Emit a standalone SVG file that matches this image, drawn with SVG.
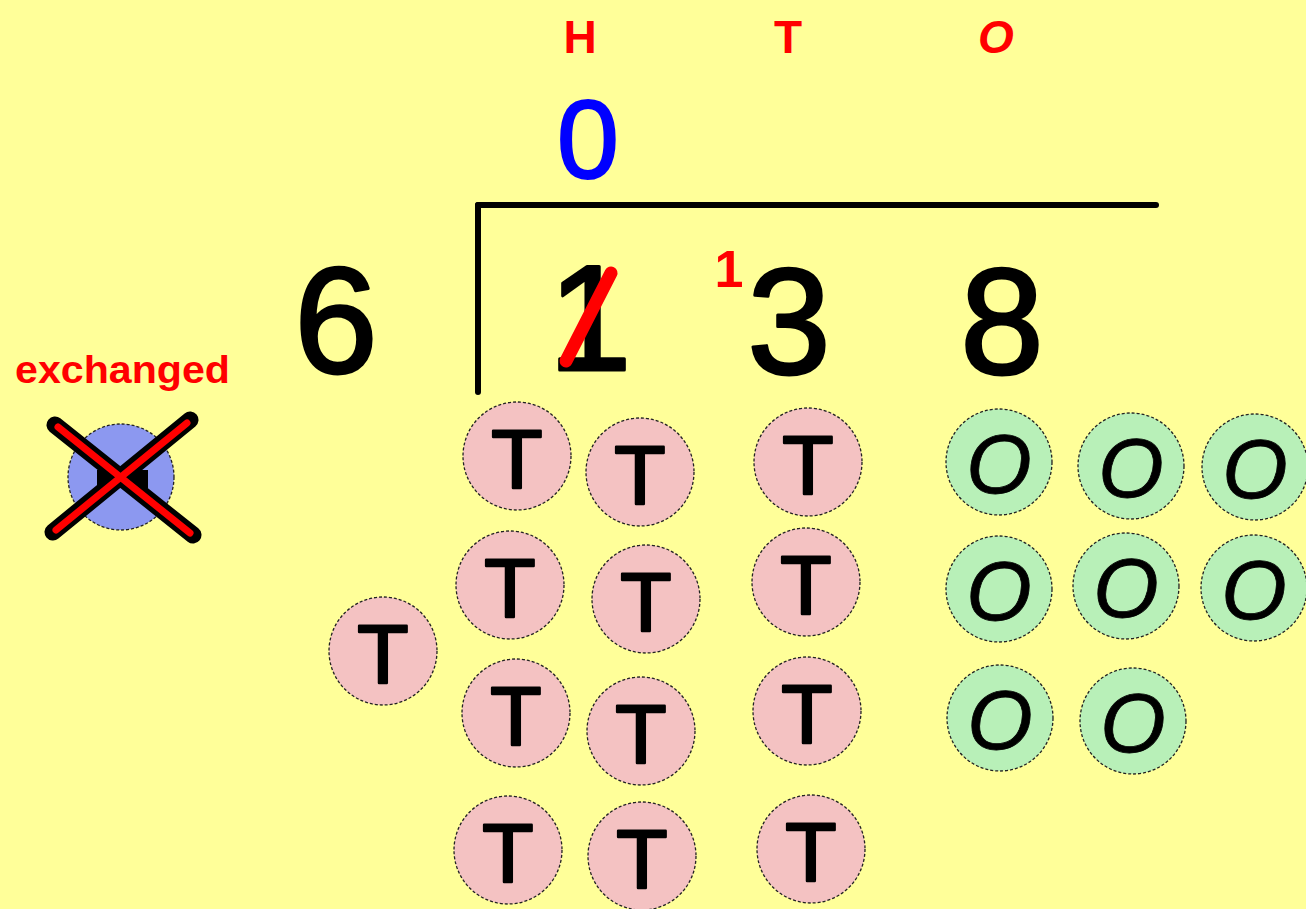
<svg xmlns="http://www.w3.org/2000/svg" width="1306" height="909" viewBox="0 0 1306 909">
<style>
.bg{fill:#FFFF99}
.tc{fill:#F4C2C2;stroke:#222;stroke-width:1.3;stroke-dasharray:3 2}
.oc{fill:#B8F0B8;stroke:#222;stroke-width:1.3;stroke-dasharray:3 2}
.tl{font-family:"Liberation Sans",Arial,sans-serif;font-size:84px;fill:#000;stroke:#000;stroke-width:2.5;stroke-linejoin:round;text-anchor:middle}
.ol{font-family:"Liberation Sans",Arial,sans-serif;font-size:84px;font-style:italic;fill:#000;stroke:#000;stroke-width:0.8;text-anchor:middle}
.big{font-family:"Liberation Sans",Arial,sans-serif;font-size:150px;fill:#000;stroke:#000;stroke-width:3;stroke-linejoin:round;text-anchor:middle}
.hdr{font-family:"Liberation Sans",Arial,sans-serif;font-size:46px;font-weight:bold;fill:#FF0000;text-anchor:middle}
.bar{stroke:#000;stroke-width:6;stroke-linecap:round;fill:none}
</style>
<rect class="bg" x="0" y="0" width="1306" height="909"/>

<g id="headers">
<text class="hdr" x="580" y="53">H</text>
<text class="hdr" x="788" y="53">T</text>
<text class="hdr" x="996" y="53" font-style="italic">O</text>
</g>

<g id="quotient">
<text x="588" y="178" font-family="'Liberation Sans',Arial,sans-serif" font-size="112" fill="#0000FF" stroke="#0000FF" stroke-width="2" text-anchor="middle">0</text>
</g>

<g id="bracket">
<line class="bar" x1="478" y1="205" x2="1156" y2="205"/>
<line class="bar" x1="478" y1="205" x2="478" y2="392"/>
</g>

<g id="divisor"><text class="big" x="336" y="373">6</text></g>
<g id="dividend">
<text class="big" x="590" y="370">1</text>
<line x1="566" y1="361" x2="611" y2="273" stroke="#FF0000" stroke-width="13" stroke-linecap="round"/>
<text x="729" y="287" font-family="'Liberation Sans',Arial,sans-serif" font-size="52" font-weight="bold" fill="#FF0000" text-anchor="middle">1</text>
<text class="big" x="789" y="374">3</text>
<text class="big" x="1002" y="374">8</text>
</g>

<g id="exchanged">
<text x="15" y="383" font-family="'Liberation Sans',Arial,sans-serif" font-size="38" font-weight="bold" fill="#FF0000" textLength="215" lengthAdjust="spacingAndGlyphs">exchanged</text>
<circle cx="121" cy="477" r="53" fill="#8C98F0" stroke="#222" stroke-width="1.3" stroke-dasharray="3 2"/>
<rect x="97" y="470" width="51" height="18" fill="#000"/>
<line x1="55" y1="425" x2="193" y2="535" stroke="#000" stroke-width="17" stroke-linecap="round"/>
<line x1="190" y1="420" x2="53" y2="532" stroke="#000" stroke-width="17" stroke-linecap="round"/>
<line x1="58" y1="427" x2="190" y2="533" stroke="#FF0000" stroke-width="7" stroke-linecap="round"/>
<line x1="187" y1="423" x2="56" y2="530" stroke="#FF0000" stroke-width="7" stroke-linecap="round"/>
</g>

<g id="tens">
<g id="t1"><circle class="tc" cx="517" cy="456" r="54"/><text class="tl" x="517" y="488">T</text></g>
<g id="t2"><circle class="tc" cx="640" cy="472" r="54"/><text class="tl" x="640" y="504">T</text></g>
<g id="t3"><circle class="tc" cx="808" cy="462" r="54"/><text class="tl" x="808" y="494">T</text></g>
<g id="t4"><circle class="tc" cx="510" cy="585" r="54"/><text class="tl" x="510" y="617">T</text></g>
<g id="t5"><circle class="tc" cx="646" cy="599" r="54"/><text class="tl" x="646" y="631">T</text></g>
<g id="t6"><circle class="tc" cx="806" cy="582" r="54"/><text class="tl" x="806" y="614">T</text></g>
<g id="t7"><circle class="tc" cx="516" cy="713" r="54"/><text class="tl" x="516" y="745">T</text></g>
<g id="t8"><circle class="tc" cx="641" cy="731" r="54"/><text class="tl" x="641" y="763">T</text></g>
<g id="t9"><circle class="tc" cx="807" cy="711" r="54"/><text class="tl" x="807" y="743">T</text></g>
<g id="t10"><circle class="tc" cx="508" cy="850" r="54"/><text class="tl" x="508" y="882">T</text></g>
<g id="t11"><circle class="tc" cx="642" cy="856" r="54"/><text class="tl" x="642" y="888">T</text></g>
<g id="t12"><circle class="tc" cx="811" cy="849" r="54"/><text class="tl" x="811" y="881">T</text></g>
<g id="t13"><circle class="tc" cx="383" cy="651" r="54"/><text class="tl" x="383" y="683">T</text></g>
</g>

<g id="ones">
<g id="o1"><circle class="oc" cx="999" cy="462" r="53"/><text class="ol" x="999" y="493">O</text></g>
<g id="o2"><circle class="oc" cx="1131" cy="466" r="53"/><text class="ol" x="1131" y="497">O</text></g>
<g id="o3"><circle class="oc" cx="1255" cy="467" r="53"/><text class="ol" x="1255" y="498">O</text></g>
<g id="o4"><circle class="oc" cx="999" cy="589" r="53"/><text class="ol" x="999" y="620">O</text></g>
<g id="o5"><circle class="oc" cx="1126" cy="586" r="53"/><text class="ol" x="1126" y="617">O</text></g>
<g id="o6"><circle class="oc" cx="1254" cy="588" r="53"/><text class="ol" x="1254" y="619">O</text></g>
<g id="o7"><circle class="oc" cx="1000" cy="718" r="53"/><text class="ol" x="1000" y="749">O</text></g>
<g id="o8"><circle class="oc" cx="1133" cy="721" r="53"/><text class="ol" x="1133" y="752">O</text></g>
</g>
<g id="connectors"/>
</svg>
